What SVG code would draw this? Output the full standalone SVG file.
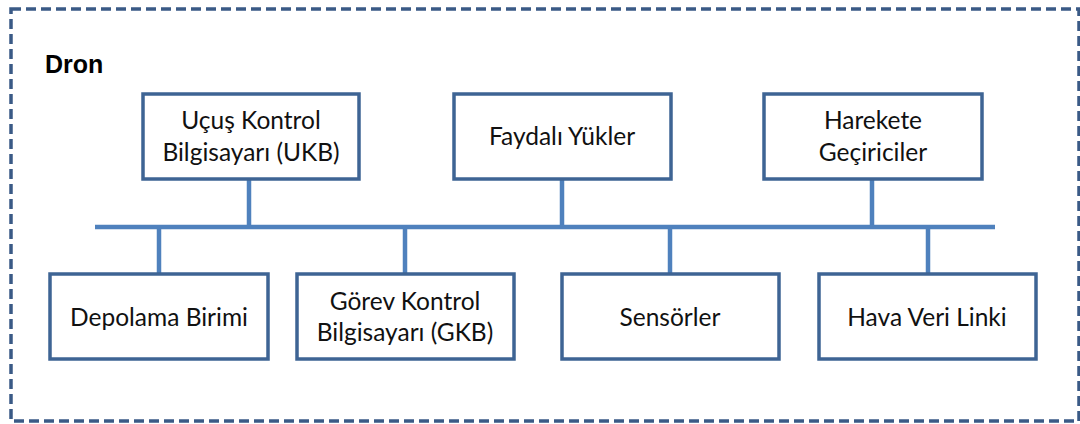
<svg xmlns="http://www.w3.org/2000/svg" width="1080" height="424" viewBox="0 0 1080 424">
  <style>
    .frame { fill: none; stroke: #3a5a86; stroke-width: 3.5; stroke-dasharray: 10 5; }
    .box { fill: #ffffff; stroke: #3e6494; stroke-width: 3.5; }
    .bus { stroke: #4f81bd; stroke-width: 4.5; fill: none; stroke-linecap: butt; }
    .lbl { font-family: Lato, "Liberation Sans", sans-serif; font-size: 24.5px; fill: #111111; text-anchor: middle; }
    .title { font-family: "Liberation Sans", Arial, sans-serif; font-size: 25px; font-weight: bold; fill: #000000; }
  </style>
  <rect width="1080" height="424" fill="#ffffff"/>
  <!-- outer system boundary -->
  <rect class="frame" x="11" y="9" width="1068" height="412"/>
  <text class="title" x="45" y="73">Dron</text>

  <!-- connectors: shared bus and stems -->
  <g id="connectors">
    <line class="bus" x1="95" y1="227" x2="995" y2="227"/>
    <line class="bus" x1="249" y1="179" x2="249" y2="227"/>
    <line class="bus" x1="562" y1="179" x2="562" y2="227"/>
    <line class="bus" x1="872" y1="179" x2="872" y2="227"/>
    <line class="bus" x1="159" y1="227" x2="159" y2="274"/>
    <line class="bus" x1="405" y1="227" x2="405" y2="274"/>
    <line class="bus" x1="670" y1="227" x2="670" y2="274"/>
    <line class="bus" x1="928" y1="227" x2="928" y2="274"/>
  </g>

  <g id="ukb">
    <rect class="box" x="143" y="94" width="216" height="85"/>
    <text class="lbl" x="251" y="129">Uçuş Kontrol</text>
    <text class="lbl" x="251" y="161">Bilgisayarı (UKB)</text>
  </g>
  <g id="faydali-yukler">
    <rect class="box" x="454" y="94" width="217" height="85"/>
    <text class="lbl" x="562" y="145">Faydalı Yükler</text>
  </g>
  <g id="harekete-geciriciler">
    <rect class="box" x="764" y="94" width="218" height="85"/>
    <text class="lbl" x="873" y="129">Harekete</text>
    <text class="lbl" x="873" y="161">Geçiriciler</text>
  </g>
  <g id="depolama-birimi">
    <rect class="box" x="50" y="274" width="218" height="85"/>
    <text class="lbl" x="159" y="326">Depolama Birimi</text>
  </g>
  <g id="gkb">
    <rect class="box" x="297" y="274" width="217" height="85"/>
    <text class="lbl" x="405" y="310">Görev Kontrol</text>
    <text class="lbl" x="405" y="341">Bilgisayarı (GKB)</text>
  </g>
  <g id="sensorler">
    <rect class="box" x="562" y="274" width="217" height="85"/>
    <text class="lbl" x="670" y="326">Sensörler</text>
  </g>
  <g id="hava-veri-linki">
    <rect class="box" x="819" y="274" width="217" height="85"/>
    <text class="lbl" x="927" y="326">Hava Veri Linki</text>
  </g>
</svg>
